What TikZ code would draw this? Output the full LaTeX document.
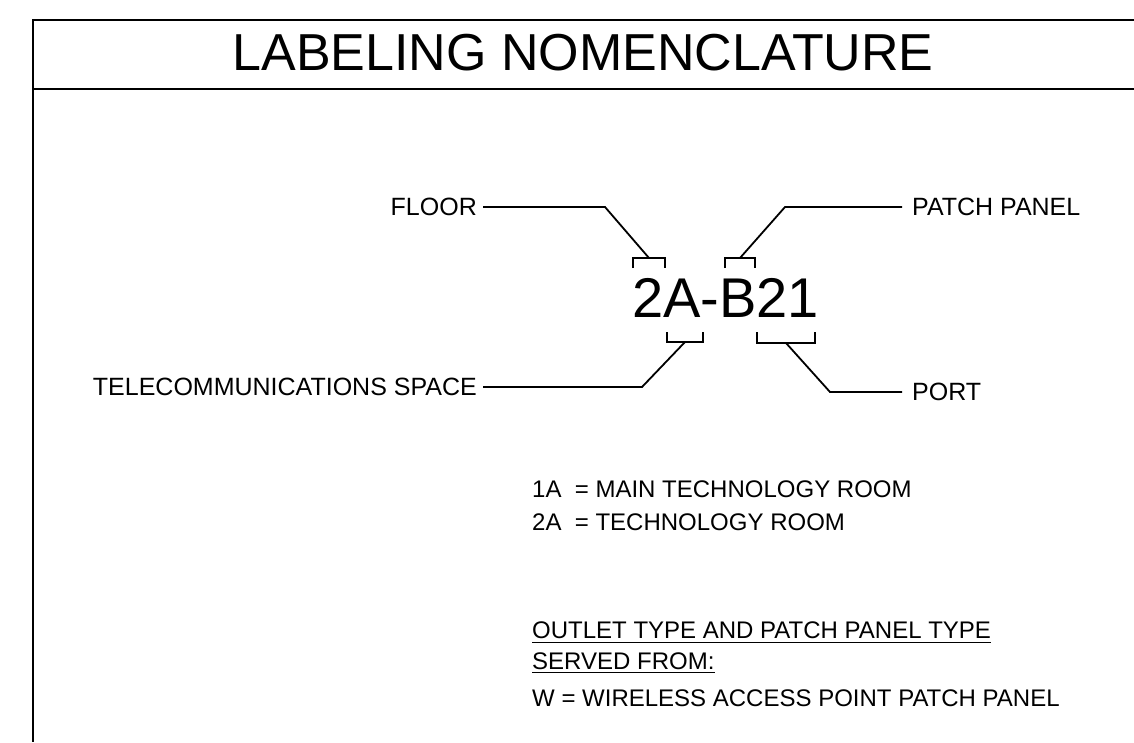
\documentclass[tikz,border=0pt]{standalone}
\usepackage{fontspec}
\setmainfont{Liberation Sans}
\begin{document}
\begin{tikzpicture}[x=1pt,y=-1pt,
  frame/.style={line width=2.6pt},
  leader/.style={line width=1.8pt},
  uline/.style={line width=1.6pt},
  lblL/.style={anchor=east, inner xsep=6pt, inner ysep=0pt, font=\fontsize{25}{30}\selectfont},
  lblR/.style={anchor=west, inner xsep=10pt, inner ysep=0pt, font=\fontsize{25}{30}\selectfont},
  leg/.style={anchor=base west, inner sep=0pt, font=\fontsize{24}{28}\selectfont}]
\useasboundingbox (0,0) rectangle (1134,742);
% frame
\draw[frame] (1134,20) -- (33,20) -- (33,742);
\draw[frame] (33,89) -- (1134,89);
\node[anchor=base, inner sep=0pt, font=\fontsize{52}{60}\selectfont] (title) at (583,70) {LABELING NOMENCLATURE};
% code
\node[anchor=base west, inner sep=0pt, font=\fontsize{56}{64}\selectfont] (code) at (632,317) {2A-B21};
% brackets
\draw[leader] (633,268) -- (633,258) -- (665,258) -- (665,268);
\draw[leader] (725,268) -- (725,258) -- (755,258) -- (755,268);
\draw[leader] (667,332) -- (667,342) -- (703,342) -- (703,332);
\draw[leader] (757,332) -- (757,343) -- (815,343) -- (815,332);
\coordinate (fb) at (649,258);
\coordinate (pb) at (740,258);
\coordinate (tb) at (685,342);
\coordinate (ob) at (786,343);
% labels
\node[lblL] (floor) at (483,207) {FLOOR};
\node[lblR] (patch) at (902,207) {PATCH PANEL};
\node[lblL] (tele) at (483,387) {TELECOMMUNICATIONS SPACE};
\node[lblR] (port) at (902,392) {PORT};
% leaders
\draw[leader] (floor.east) -- (605,207) -- (fb);
\draw[leader] (patch.west) -- (785,207) -- (pb);
\draw[leader] (tele.east) -- (642,387) -- (tb);
\draw[leader] (port.west) -- (830,392) -- (ob);
% legend
\node[leg] (l1) at (532,497) {1A\ \ = MAIN TECHNOLOGY ROOM};
\node[leg] (l2) at (532,530) {2A\ \ = TECHNOLOGY ROOM};
\node[leg] (l3) at (532,638) {OUTLET TYPE AND PATCH PANEL TYPE};
\node[leg] (l4) at (532,669) {SERVED FROM:};
\node[leg] (l5) at (532,706) {W = WIRELESS ACCESS POINT PATCH PANEL};
\draw[uline] ([yshift=-4pt]l3.south west) -- ([yshift=-4pt]l3.south east);
\draw[uline] ([yshift=-3pt]l4.south west) -- ([yshift=-3pt]l4.south east);
\end{tikzpicture}
\end{document}
